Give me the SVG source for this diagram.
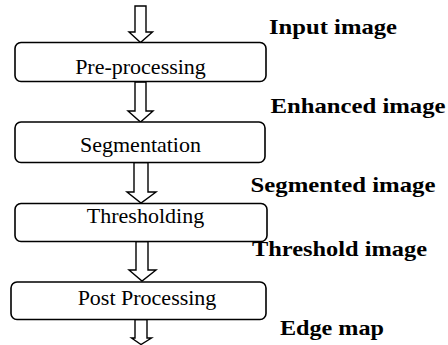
<svg xmlns="http://www.w3.org/2000/svg" width="448" height="345" viewBox="0 0 448 345">
<style>
.box{fill:#fff;stroke:#000;stroke-width:1.6}
.arr{fill:#fff;stroke:#000;stroke-width:1.4;stroke-linejoin:miter}
.t{font-family:'Liberation Serif','DejaVu Serif',serif;font-size:22px;fill:#000;text-anchor:middle}
.lb{font-family:'Liberation Serif','DejaVu Serif',serif;font-size:21px;font-weight:bold;fill:#000}
</style>
<rect width="448" height="345" fill="#fff"/>
<g id="connectors">
<polygon class="arr" points="135,6 146,6 146,32 152.5,32 140.5,42.5 129,32 135,32"/>
<polygon class="arr" points="135,82 146,82 146,111 153,111 140.5,122 128,111 135,111"/>
<polygon class="arr" points="134,162.5 148,162.5 148,192 156,192 141,203 127,192 134,192"/>
<polygon class="arr" points="136,241.5 148,241.5 148,270 156,270 142,281 129,270 136,270"/>
<polygon class="arr" points="135,319.5 147,319.5 147,338 151.5,338 141,344.5 131.5,338 135,338"/>
</g>
<g id="preprocessing">
<rect class="box" x="15" y="42.5" width="251" height="39" rx="6"/>
<text class="t" x="140.5" y="74" font-family="Liberation Serif, serif">Pre-processing</text>
</g>
<g id="segmentation">
<rect class="box" x="15" y="122" width="250" height="40.5" rx="6"/>
<text class="t" x="140.5" y="152" font-family="Liberation Serif, serif">Segmentation</text>
</g>
<g id="thresholding">
<rect class="box" x="15" y="203.5" width="252" height="38" rx="6"/>
<text class="t" x="145.5" y="223" font-family="Liberation Serif, serif">Thresholding</text>
</g>
<g id="postprocessing">
<rect class="box" x="11" y="282" width="255" height="37.5" rx="6"/>
<text class="t" x="147" y="305" font-family="Liberation Serif, serif">Post Processing</text>
</g>
<g id="labels">
<text class="lb" x="269" y="33.5" textLength="128" lengthAdjust="spacingAndGlyphs">Input image</text>
<text class="lb" x="270.5" y="113" textLength="175" lengthAdjust="spacingAndGlyphs">Enhanced image</text>
<text class="lb" x="250.5" y="191.5" textLength="185" lengthAdjust="spacingAndGlyphs">Segmented image</text>
<text class="lb" x="252" y="256" textLength="175" lengthAdjust="spacingAndGlyphs">Threshold image</text>
<text class="lb" x="280" y="335" textLength="104" lengthAdjust="spacingAndGlyphs">Edge map</text>
</g>
</svg>
